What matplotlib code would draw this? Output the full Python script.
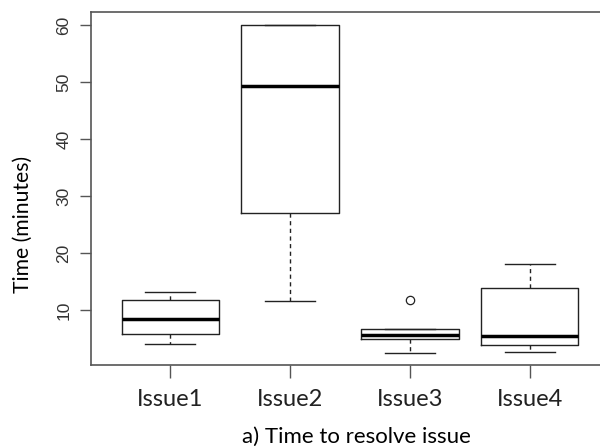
import matplotlib
matplotlib.use("Agg")
import matplotlib.pyplot as plt

categories = ["Issue1", "Issue2", "Issue3", "Issue4"]
whisker_low = [4.1, 11.5, 2.5, 2.6]
q1 = [5.8, 27.0, 4.9, 3.9]
median = [8.4, 49.3, 5.7, 5.4]
q3 = [11.7, 60.0, 6.6, 13.9]
whisker_high = [13.2, 60.0, 6.7, 18.1]
outliers = [[], [], [11.7], []]
yticks = [10, 20, 30, 40, 50, 60]

stats = []
for i, c in enumerate(categories):
    stats.append(dict(label=c, whislo=whisker_low[i], q1=q1[i], med=median[i],
                      q3=q3[i], whishi=whisker_high[i], fliers=outliers[i]))

fig = plt.figure(figsize=(6.0, 4.48), dpi=100)
ax = fig.add_axes([91/600, 1-365/448, (609-91)/600, (365-12)/448])

ax.bxp(stats, positions=[1, 2, 3, 4], widths=0.81,
       boxprops=dict(color="#222222", linewidth=1.0),
       medianprops=dict(color="black", linewidth=2.5),
       whiskerprops=dict(color="#222222", linewidth=1.0, linestyle=(0, (3, 2.5))),
       capprops=dict(color="#222222", linewidth=1.0),
       capwidths=0.42,
       flierprops=dict(marker="o", markerfacecolor="white", markeredgecolor="#222222",
                       markersize=6, markeredgewidth=0.9))

ax.set_xlim(0.34, 4.66)
ax.set_ylim(0.35, 62.28)
ax.set_yticks(yticks)
ax.set_yticklabels([str(v) for v in yticks], rotation=90, va="center",
                   family=["Liberation Sans Narrow", "Liberation Sans", "DejaVu Sans"],
                   fontsize=12.5, color="#333333")
ax.set_xticks([1, 2, 3, 4])
ax.set_xticklabels(categories, family=["Lato", "DejaVu Sans"], fontsize=17, color="#222222")
ax.tick_params(axis="y", length=8, width=1, color="#555555", pad=6)
ax.tick_params(axis="x", length=9, width=1, color="#555555", pad=8)
for s in ax.spines.values():
    s.set_color("#555555")
    s.set_linewidth(1.2)

ax.set_ylabel("Time (minutes)", family=["Lato", "DejaVu Sans"], fontsize=15.2, va="center")
ax.yaxis.set_label_coords((23 - 91) / 518, (365 - 224) / 353)
ax.set_xlabel("a) Time to resolve issue", family=["Lato", "DejaVu Sans"], fontsize=16, va="center")
ax.xaxis.set_label_coords((356 - 91) / 518, (365 - 437) / 353)

fig.savefig("out.png", dpi=100)
